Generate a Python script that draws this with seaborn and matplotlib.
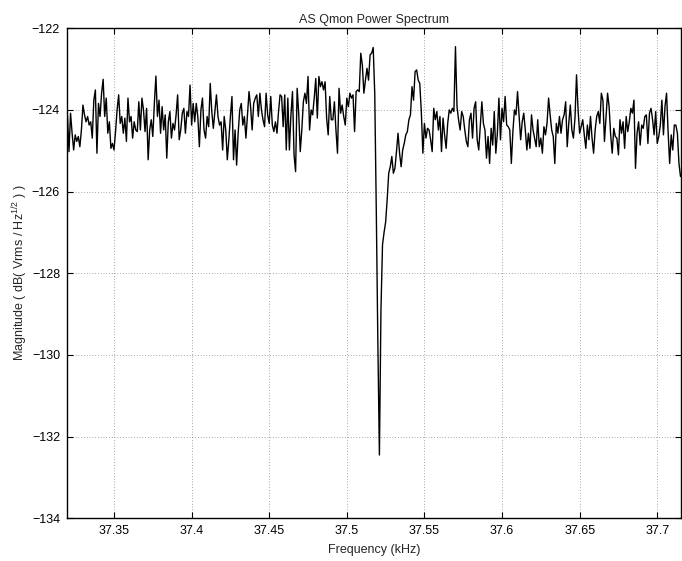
import numpy as np
import pandas as pd
import matplotlib
matplotlib.use("Agg")
import matplotlib.pyplot as plt
import seaborn as sns

# Frequency bins (1 Hz spacing), in kHz
freq_start_hz = 37320
freq_stop_hz = 37715

# Magnitude (dB Vrms/sqrt(Hz)), one value per bin
mag_a = [-124.12, -125.02, -124.08, -124.57, -124.98, -124.61, -124.77, -124.65, -124.90, -124.49,
         -123.88, -124.12, -124.29, -124.16, -124.37, -124.29, -124.69, -123.76, -123.51, -125.06,
         -123.84, -124.16, -123.59, -123.25, -124.16, -123.71, -124.57, -124.29, -124.94, -124.82,
         -124.98, -124.53, -124.00, -123.63, -124.33, -124.16, -124.57, -124.20, -124.77, -123.71,
         -124.29, -124.16, -124.69, -124.29, -124.49, -124.53, -123.80, -124.49, -123.71, -124.00,
         -124.53, -123.96, -125.22, -124.49, -124.24, -124.65, -123.84, -123.17, -124.16, -123.76,
         -124.57, -123.92, -124.49, -124.12, -125.18, -124.29]
mag_b = [-124.04, -124.69, -124.33, -124.49, -124.12, -123.63, -124.73, -124.49, -124.08, -123.96,
         -124.57, -124.04, -124.16, -123.39, -124.37, -123.84, -124.29, -123.84, -124.16, -124.90,
         -124.00, -123.71, -124.49, -124.69, -124.16, -124.41, -123.35, -124.04, -124.45, -124.04,
         -123.63, -124.16, -124.37, -124.29, -124.98, -124.16, -124.49, -125.22, -124.73, -124.16,
         -123.67, -125.22, -124.49, -125.35, -124.57, -124.00, -123.84, -124.37, -124.16, -124.69,
         -124.12, -123.55, -123.92, -124.49, -123.84, -123.71, -123.63, -124.16, -123.59, -124.00,
         -124.24, -124.41, -123.59, -124.12, -124.33, -123.67, -124.37, -124.53, -124.29]
mag_c = [-124.57, -124.04, -123.63, -123.67, -124.41, -123.63, -124.98, -123.71, -124.98, -124.12,
         -123.55, -125.10, -125.51, -123.47, -124.08, -125.02, -124.49, -123.80, -123.59, -123.84,
         -123.18, -124.49, -124.00, -124.12, -123.71, -123.23, -124.20, -123.18, -123.43, -123.31,
         -123.51, -123.31, -124.20, -124.61, -123.67, -124.24, -124.24, -123.80, -124.49, -125.06,
         -123.47, -124.08, -123.88, -124.16, -124.37, -123.71, -123.92, -123.59, -123.71, -123.63,
         -124.53, -123.55, -123.51, -123.55, -122.61, -122.90, -123.59, -123.27, -122.98, -123.27,
         -122.65, -122.61, -122.47]
mag_dip = [-123.6, -126.5, -129.7, -132.45, -128.9, -127.3, -127.0, -126.75, -126.2]
mag_d = [-125.55, -125.39, -125.14, -125.55, -125.43, -125.02, -124.57, -125.06, -125.39, -124.98,
         -124.82, -124.61, -124.53, -124.24, -124.12, -123.43, -123.76, -123.06, -123.02, -123.27,
         -123.35, -124.04, -125.06, -124.33, -124.69, -124.45, -124.49, -124.73, -125.02, -123.96,
         -124.24, -124.04, -124.49, -124.16, -125.02, -124.20, -124.61, -124.94, -124.33, -124.00,
         -124.08, -123.96, -124.04, -122.45, -123.92, -124.24, -124.49, -124.04, -124.16, -124.49,
         -124.77, -124.90, -124.24, -124.08, -124.69, -123.96, -123.80, -124.73, -124.98, -124.41,
         -123.80, -124.33, -124.49]
mag_e = [-125.18, -124.65, -125.31, -124.45, -124.86, -124.04, -125.06, -124.57, -123.71, -124.73,
         -123.96, -124.29, -123.67, -124.37, -124.41, -124.49, -125.31, -124.53, -124.00, -124.12,
         -123.55, -124.16, -124.73, -124.29, -124.08, -124.49, -124.98, -124.57, -124.94, -124.12,
         -124.49, -124.69, -124.90, -124.24, -124.90, -124.69, -125.06, -124.41, -124.61, -124.33,
         -123.71, -124.12, -124.49, -124.65, -125.31, -124.33, -124.57, -124.16, -124.57, -124.24,
         -124.12, -123.80, -124.90, -124.33, -123.88, -124.49, -124.69, -124.20, -123.14, -124.00,
         -124.57, -124.41, -124.24, -124.61, -124.94, -124.37, -124.73, -124.16]
mag_f = [-124.69, -125.06, -124.49, -124.16, -124.04, -124.33, -123.59, -123.76, -124.77, -124.16,
         -123.59, -123.92, -124.61, -125.06, -124.45, -124.65, -124.69, -125.10, -124.24, -124.57,
         -124.29, -124.94, -124.16, -124.53, -124.29, -123.96, -124.08, -123.76, -125.43, -124.57,
         -124.29, -124.86, -124.37, -124.45, -124.16, -124.12, -124.82, -124.08, -123.96, -124.24,
         -124.61, -124.04, -124.82, -124.65, -124.37, -123.76, -124.61, -123.92, -123.59, -124.53,
         -125.31, -124.61, -124.98, -124.37, -124.37, -124.57, -125.31, -125.63]

x_ticks = [37.35, 37.40, 37.45, 37.50, 37.55, 37.60, 37.65, 37.70]
x_tick_labels = ["37.35", "37.4", "37.45", "37.5", "37.55", "37.6", "37.65", "37.7"]
y_ticks = [-134, -132, -130, -128, -126, -124, -122]

magnitude = mag_a + mag_b + mag_c + mag_dip + mag_d + mag_e + mag_f
frequency = np.arange(freq_start_hz, freq_stop_hz + 1) / 1000.0
df = pd.DataFrame({"Frequency (kHz)": frequency[:len(magnitude)], "Magnitude": magnitude})

sns.set_theme(style="ticks")
plt.rcParams["font.family"] = ["Liberation Sans", "DejaVu Sans"]
plt.rcParams["mathtext.fontset"] = "custom"
plt.rcParams["mathtext.rm"] = "Liberation Sans"
plt.rcParams["mathtext.it"] = "Liberation Sans"

fig = plt.figure(figsize=(6.82, 5.61), dpi=100)
ax = fig.add_axes([0.0982, 0.0761, 0.9003, 0.8735])

sns.lineplot(data=df, x="Frequency (kHz)", y="Magnitude", ax=ax, color="black",
             linewidth=1.0, estimator=None, sort=False)

ax.set_xlim(37.3197, 37.7153)
ax.set_ylim(-134, -122)
ax.set_xticks(x_ticks)
ax.set_xticklabels(x_tick_labels)
ax.set_yticks(y_ticks)
ax.grid(True, color="#555555", linestyle=(0, (1, 3)), linewidth=0.5)
ax.tick_params(direction="in", length=4, width=0.8, top=True, right=True,
               labelsize=9, colors="black", pad=5)
for s in ax.spines.values():
    s.set_linewidth(1.0)
    s.set_color("black")

ax.set_xlabel("Frequency (kHz)", fontsize=9, labelpad=5)
ax.set_ylabel("Magnitude ( dB( Vrms / Hz$^{1/2}$ ) )", fontsize=9, labelpad=1)
ax.set_title("AS Qmon Power Spectrum", fontsize=9, pad=4)

fig.savefig("out.png", dpi=100)
